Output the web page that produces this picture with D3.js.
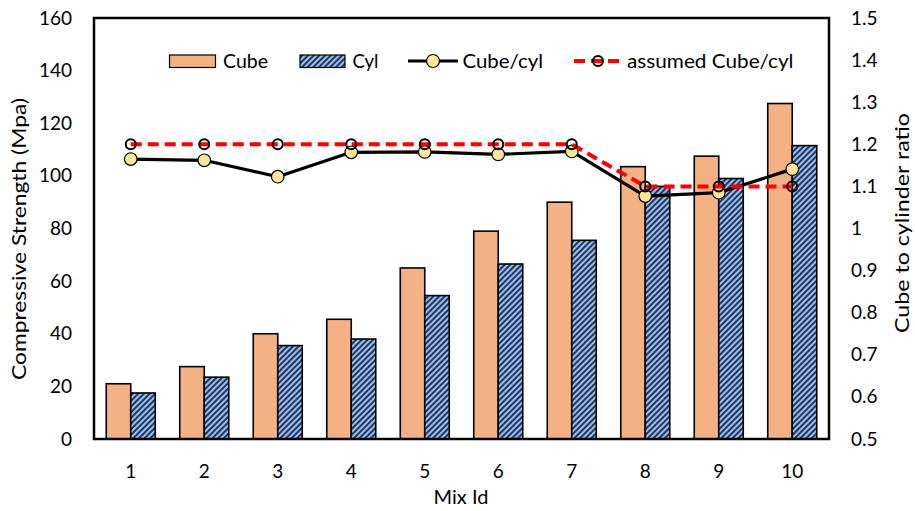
<!DOCTYPE html>
<html>
<head>
<meta charset="utf-8">
<script src="https://cdn.jsdelivr.net/npm/d3@7"></script>
<style>
  html, body { margin: 0; padding: 0; background: #fff; }
  svg text { font-family: Lato, "Open Sans", sans-serif; fill: #000; }
</style>
</head>
<body>
<svg id="chart" width="915" height="511"></svg>
<script>
// Mix identifiers and measured compressive strengths (MPa)
const mixIds = ["1", "2", "3", "4", "5", "6", "7", "8", "9", "10"];
const cubeStrength = [21, 27.5, 40, 45.5, 65, 79, 90, 103.5, 107.5, 127.5];
const cylStrength = [17.5, 23.5, 35.5, 38, 54.5, 66.5, 75.5, 96, 99, 111.5];
// Cube to cylinder strength ratios
const ratioMeasured = [1.165, 1.162, 1.123, 1.181, 1.182, 1.176, 1.183, 1.077, 1.085, 1.141];
const ratioAssumed = [1.2, 1.2, 1.2, 1.2, 1.2, 1.2, 1.2, 1.1, 1.1, 1.1];
// Axis ticks
const leftTicks = [0, 20, 40, 60, 80, 100, 120, 140, 160];
const rightTicks = [0.5, 0.6, 0.7, 0.8, 0.9, 1, 1.1, 1.2, 1.3, 1.4, 1.5];
const seriesNames = ["Cube", "Cyl", "Cube/cyl", "assumed Cube/cyl"];

const svg = d3.select("#chart");
const plot = { left: 94, right: 829, top: 18, bottom: 439 };

const x = d3.scaleBand().domain(mixIds).range([plot.left, plot.right])
  .paddingInner(1 / 3).paddingOuter(1 / 6);
const xSub = d3.scaleBand().domain(["cube", "cyl"]).range([0, x.bandwidth()]);
const yLeft = d3.scaleLinear().domain([0, 160]).range([plot.bottom, plot.top]);
const yRight = d3.scaleLinear().domain([0.5, 1.5]).range([plot.bottom, plot.top]);

// Hatched fill for cylinder bars
const defs = svg.append("defs");
const pat = defs.append("pattern").attr("id", "hatch")
  .attr("patternUnits", "userSpaceOnUse").attr("width", 4).attr("height", 4)
  .attr("patternTransform", "rotate(45)");
pat.append("rect").attr("width", 4).attr("height", 4).attr("fill", "#9dbde6");
pat.append("rect").attr("width", 2).attr("height", 4).attr("fill", "#1f3763");

const cubeFill = "#f4b183";

// Bars
const groups = svg.append("g").selectAll("g").data(mixIds).join("g")
  .attr("transform", d => `translate(${x(d)},0)`);
groups.append("rect")
  .attr("x", xSub("cube")).attr("width", xSub.bandwidth())
  .attr("y", (d, i) => yLeft(cubeStrength[i]))
  .attr("height", (d, i) => yLeft(0) - yLeft(cubeStrength[i]))
  .attr("fill", cubeFill).attr("stroke", "#000").attr("stroke-width", 1.6);
groups.append("rect")
  .attr("x", xSub("cyl")).attr("width", xSub.bandwidth())
  .attr("y", (d, i) => yLeft(cylStrength[i]))
  .attr("height", (d, i) => yLeft(0) - yLeft(cylStrength[i]))
  .attr("fill", "url(#hatch)").attr("stroke", "#000").attr("stroke-width", 1.6);

const cx = d => x(d) + x.bandwidth() / 2;

// Measured ratio line
const ratioLine = d3.line().x((d, i) => cx(mixIds[i])).y(d => yRight(d));
svg.append("path").datum(ratioMeasured).attr("d", ratioLine)
  .attr("fill", "none").attr("stroke", "#000").attr("stroke-width", 3.2)
  .attr("stroke-linejoin", "round");
svg.append("g").selectAll("circle").data(ratioMeasured).join("circle")
  .attr("cx", (d, i) => cx(mixIds[i])).attr("cy", d => yRight(d)).attr("r", 6.3)
  .attr("fill", "#ffe699").attr("stroke", "#000").attr("stroke-width", 1.2);

// Assumed ratio line
svg.append("path").datum(ratioAssumed).attr("d", ratioLine)
  .attr("fill", "none").attr("stroke", "#ff0000").attr("stroke-width", 4)
  .attr("stroke-dasharray", "11,6");
svg.append("g").selectAll("circle").data(ratioAssumed).join("circle")
  .attr("cx", (d, i) => cx(mixIds[i])).attr("cy", d => yRight(d)).attr("r", 5)
  .attr("fill", "none").attr("stroke", "#000").attr("stroke-width", 2);

// Plot frame
svg.append("rect").attr("x", plot.left).attr("y", plot.top)
  .attr("width", plot.right - plot.left).attr("height", plot.bottom - plot.top)
  .attr("fill", "none").attr("stroke", "#000").attr("stroke-width", 2.5);

// Axes
const axisLeft = d3.axisLeft(yLeft).tickValues(leftTicks).tickSize(0).tickPadding(22);
const gL = svg.append("g").attr("transform", `translate(${plot.left},0)`).call(axisLeft);
const axisRight = d3.axisRight(yRight).tickValues(rightTicks).tickSize(0).tickPadding(22)
  .tickFormat(d => String(d));
const gR = svg.append("g").attr("transform", `translate(${plot.right},0)`).call(axisRight);
const axisBottom = d3.axisBottom(x).tickSize(0).tickPadding(22);
const gB = svg.append("g").attr("transform", `translate(0,${plot.bottom})`).call(axisBottom);
[gL, gR, gB].forEach(g => {
  g.select(".domain").remove();
  g.selectAll("text").style("font-size", "19px").style("font-family", null);
});
gB.selectAll("text").attr("dy", "0.9em");

// Axis titles
svg.append("text").attr("transform", "translate(26,239) rotate(-90)")
  .attr("text-anchor", "middle").style("font-size", "20px")
  .attr("textLength", 282).attr("lengthAdjust", "spacingAndGlyphs")
  .text("Compressive Strength (Mpa)");
svg.append("text").attr("transform", "translate(909,223) rotate(-90)")
  .attr("text-anchor", "middle").style("font-size", "20px")
  .attr("textLength", 220).attr("lengthAdjust", "spacingAndGlyphs")
  .text("Cube to cylinder ratio");
svg.append("text").attr("x", 461).attr("y", 504)
  .attr("text-anchor", "middle").style("font-size", "20px")
  .text("Mix Id");

// Legend
const legY = 61;
const leg = svg.append("g");
leg.append("rect").attr("x", 169.5).attr("y", legY - 6).attr("width", 46).attr("height", 12.5)
  .attr("fill", cubeFill).attr("stroke", "#000").attr("stroke-width", 1.2);
leg.append("rect").attr("x", 300).attr("y", legY - 6).attr("width", 45).attr("height", 12.5)
  .attr("fill", "url(#hatch)").attr("stroke", "#000").attr("stroke-width", 1.2);
leg.append("line").attr("x1", 408).attr("x2", 458).attr("y1", legY).attr("y2", legY)
  .attr("stroke", "#000").attr("stroke-width", 3.2);
leg.append("circle").attr("cx", 433).attr("cy", legY).attr("r", 6.5)
  .attr("fill", "#ffe699").attr("stroke", "#000").attr("stroke-width", 1.2);
leg.append("line").attr("x1", 572).attr("x2", 620).attr("y1", legY).attr("y2", legY)
  .attr("stroke", "#ff0000").attr("stroke-width", 4).attr("stroke-dasharray", "11,6")
  .attr("stroke-dashoffset", -2);
leg.append("circle").attr("cx", 598).attr("cy", legY).attr("r", 5)
  .attr("fill", "none").attr("stroke", "#000").attr("stroke-width", 2);
const legTextX = [223, 352.5, 462.5, 627];
const legTextW = [45, 26, 80.5, 166.5];
leg.selectAll("text.lt").data(seriesNames).join("text").attr("class", "lt")
  .attr("x", (d, i) => legTextX[i]).attr("y", legY).attr("dy", "0.35em")
  .attr("textLength", (d, i) => legTextW[i]).attr("lengthAdjust", "spacingAndGlyphs")
  .style("font-size", "20px").text(d => d);
</script>
</body>
</html>
